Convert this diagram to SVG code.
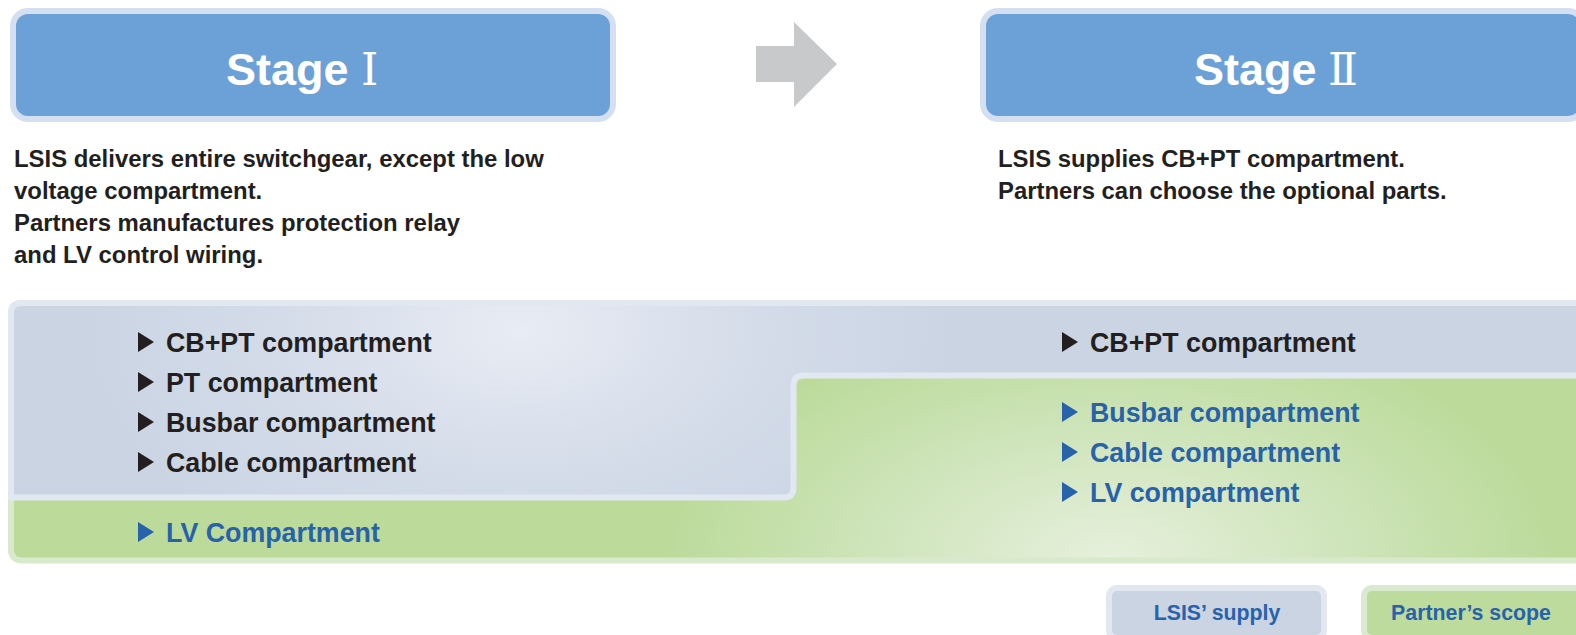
<svg xmlns="http://www.w3.org/2000/svg" width="1576" height="635" viewBox="0 0 1576 635">
  <defs>
    <radialGradient id="gBlue" gradientUnits="userSpaceOnUse" cx="520" cy="330" r="440" gradientTransform="translate(520 330) scale(1 0.6) translate(-520 -330)">
      <stop offset="0" stop-color="#e8ecf4"/>
      <stop offset="0.55" stop-color="#d4dce9"/>
      <stop offset="1" stop-color="#cad4e3"/>
    </radialGradient>
    <radialGradient id="gGreen" gradientUnits="userSpaceOnUse" cx="1110" cy="560" r="440" gradientTransform="translate(1110 560) scale(1 0.55) translate(-1110 -560)">
      <stop offset="0" stop-color="#e6f0dc"/>
      <stop offset="0.5" stop-color="#d0e5bd"/>
      <stop offset="1" stop-color="#bcdb9b"/>
    </radialGradient>
    <style>
      .stageOuter { fill: #d4dff1; }
      .stageInner { fill: #6ca1d7; }
      .stageTxt { font-family: "Liberation Sans", Arial, sans-serif; font-weight: 700; font-size: 45px; fill: #ffffff; }
      .num { font-family: "DejaVu Serif", "Liberation Serif", serif; font-weight: 400; font-size: 44px; }
      .para { font-family: "Liberation Sans", Arial, sans-serif; font-weight: 700; font-size: 23.9px; fill: #231f20; }
      .item { font-family: "Liberation Sans", Arial, sans-serif; font-weight: 700; font-size: 26.8px; fill: #231f20; }
      .itemB { font-family: "Liberation Sans", Arial, sans-serif; font-weight: 700; font-size: 26.8px; fill: #2762aa; }
      .triK { fill: #231f20; }
      .triB { fill: #2762aa; }
      .leg { font-family: "Liberation Sans", Arial, sans-serif; font-weight: 700; font-size: 21.3px; fill: #2762aa; text-anchor: middle; }
    </style>
  </defs>

  <g id="stage1">
    <rect class="stageOuter" x="10" y="8" width="606" height="114" rx="18"/>
    <rect class="stageInner" x="16" y="14" width="594" height="102" rx="12"/>
    <text class="stageTxt" x="226" y="85">Stage <tspan class="num" x="361">Ⅰ</tspan></text>
  </g>

  <g id="stage2">
    <rect class="stageOuter" x="980" y="8" width="606" height="114" rx="18"/>
    <rect class="stageInner" x="986" y="14" width="594" height="102" rx="12"/>
    <text class="stageTxt" x="1194" y="85">Stage <tspan class="num" x="1328">Ⅱ</tspan></text>
  </g>

  <g id="connectors">
    <polygon points="756,46 794,46 794,22 837,64 794,107 794,82 756,82" fill="#c8c9cb"/>
  </g>

  <g id="desc1">
    <text class="para" x="14" y="167">LSIS delivers entire switchgear, except the low</text>
    <text class="para" x="14" y="199">voltage compartment.</text>
    <text class="para" x="14" y="231">Partners manufactures protection relay</text>
    <text class="para" x="14" y="263">and LV control wiring.</text>
  </g>

  <g id="desc2">
    <text class="para" x="998" y="167">LSIS supplies CB+PT compartment.</text>
    <text class="para" x="998" y="199">Partners can choose the optional parts.</text>
  </g>

  <g id="panel">
    <rect x="11" y="303" width="1580" height="257.5" rx="10" fill="url(#gGreen)" stroke="#d8eacb" stroke-width="6"/>
    <path d="M 11,313 Q 11,303 21,303 H 1590 V 375.5 H 803.5 Q 793.5,375.5 793.5,385.5 V 487.5 Q 793.5,497.5 783.5,497.5 H 11 Z" fill="url(#gBlue)" stroke="#e2e8f1" stroke-width="6" stroke-linejoin="round"/>
  </g>

  <g id="stage1-items">
    <polygon class="triK" points="138,332 154,342 138,352"/>
    <text class="item" x="166" y="352">CB+PT compartment</text>
    <polygon class="triK" points="138,372 154,382 138,392"/>
    <text class="item" x="166" y="392">PT compartment</text>
    <polygon class="triK" points="138,412 154,422 138,432"/>
    <text class="item" x="166" y="432">Busbar compartment</text>
    <polygon class="triK" points="138,452 154,462 138,472"/>
    <text class="item" x="166" y="472">Cable compartment</text>
    <polygon class="triB" points="138,522 154,532 138,542"/>
    <text class="itemB" x="166" y="542">LV Compartment</text>
  </g>

  <g id="stage2-items">
    <polygon class="triK" points="1062,332 1078,342 1062,352"/>
    <text class="item" x="1090" y="352">CB+PT compartment</text>
    <polygon class="triB" points="1062,402 1078,412 1062,422"/>
    <text class="itemB" x="1090" y="422">Busbar compartment</text>
    <polygon class="triB" points="1062,442 1078,452 1062,462"/>
    <text class="itemB" x="1090" y="462">Cable compartment</text>
    <polygon class="triB" points="1062,482 1078,492 1062,502"/>
    <text class="itemB" x="1090" y="502">LV compartment</text>
  </g>

  <g id="legend-lsis">
    <rect x="1109" y="588" width="215" height="50" rx="8" fill="#cad4e3" stroke="#e3e8f0" stroke-width="6"/>
    <text class="leg" x="1217" y="620">LSIS’ supply</text>
  </g>

  <g id="legend-partner">
    <rect x="1364" y="588" width="220" height="50" rx="8" fill="#bddb9c" stroke="#d9ead0" stroke-width="6"/>
    <text class="leg" x="1471" y="620">Partner’s scope</text>
  </g>
</svg>
